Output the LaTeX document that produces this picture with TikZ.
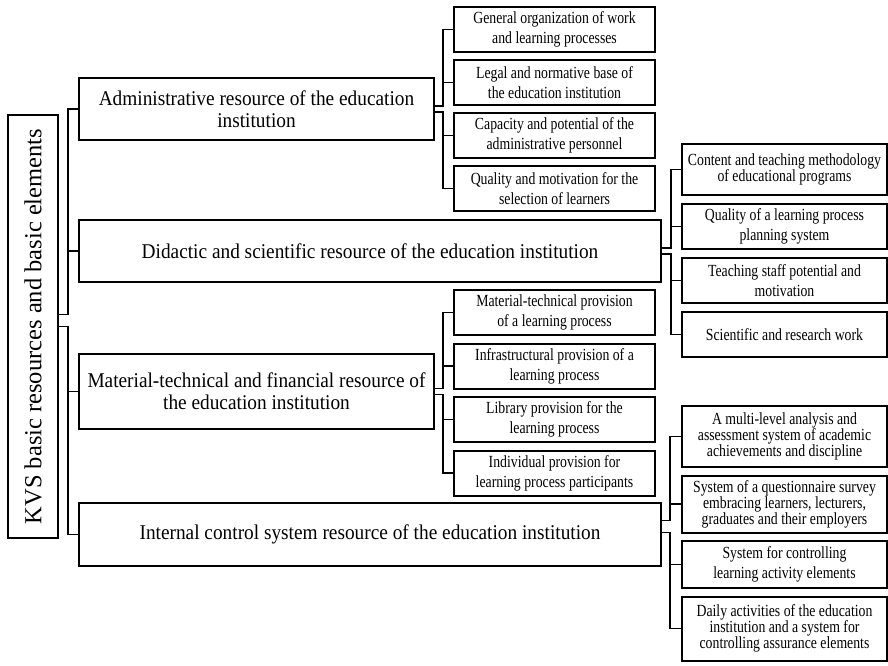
\documentclass[tikz,border=0pt]{standalone}
\usepackage{fontspec}
\setmainfont{Liberation Serif}
\newfontfamily\mainfnt[FakeStretch=0.92]{Liberation Serif}
\newfontfamily\subfnt[FakeStretch=0.81]{Liberation Serif}
\usetikzlibrary{positioning}
\tikzstyle{rb}=[draw, line width=2pt, rectangle, inner sep=0pt, outer sep=0pt, minimum width=50pt, minimum height=423pt, font=\fontsize{24.5}{26}\selectfont]
\tikzstyle{mb}=[draw, line width=2pt, rectangle, inner sep=0pt, outer sep=0pt, align=center, anchor=north west, minimum height=62pt, font=\mainfnt\fontsize{21}{22}\selectfont]
\tikzstyle{sb}=[draw, line width=2pt, rectangle, inner sep=0pt, outer sep=0pt, align=center, minimum width=201pt, minimum height=45pt, font=\subfnt\fontsize{17}{20}\selectfont]
\tikzstyle{sc}=[sb, minimum width=205pt, font=\subfnt\fontsize{17}{16}\selectfont]
\tikzstyle{ln}=[line width=1.5pt]

\begin{document}
\begin{tikzpicture}[x=1pt, y=-1pt]
\useasboundingbox (0,0) rectangle (888,665);

\node[rb] (root) at (33,326.5) {\rotatebox{90}{KVS basic resources and basic elements}};

\node[mb, minimum width=355pt] (adm) at (79,78) {Administrative resource of the education\\institution};
\node[mb, minimum width=582pt] (did) at (79,220) {Didactic and scientific resource of the education institution};
\node[mb, minimum width=355pt, minimum height=75pt] (mat) at (79,354) {Material-technical and financial resource of\\the education institution};
\node[mb, minimum width=582pt, minimum height=63pt] (int) at (79,503) {Internal control system resource of the education institution};

% administrative
\node[sb, anchor=north west] (a1) at (454,7) {General organization of work\\and learning processes};
\node[sb, below=8pt of a1] (a2) {Legal and normative base of\\the education institution};
\node[sb, below=8pt of a2] (a3) {Capacity and potential of the\\administrative personnel};
\node[sb, below=8pt of a3] (a4) {Quality and motivation for the\\selection of learners};

% didactic
\node[sc, anchor=north west, minimum height=51pt] (d1) at (682,144) {Content and teaching methodology\\of educational programs};
\node[sc, below=9pt of d1, font=\subfnt\fontsize{17}{20}\selectfont] (d2) {Quality of a learning process\\planning system};
\node[sc, below=9pt of d2, font=\subfnt\fontsize{17}{20}\selectfont] (d3) {Teaching staff potential and\\motivation};
\node[sc, below=9pt of d3] (d4) {Scientific and research work};

% material
\node[sb, anchor=north west] (m1) at (454,290) {Material-technical provision\\of a learning process};
\node[sb, below=8.5pt of m1] (m2) {Infrastructural provision of a\\learning process};
\node[sb, below=8.5pt of m2] (m3) {Library provision for the\\learning process};
\node[sb, below=8.5pt of m3] (m4) {Individual provision for\\learning process participants};

% internal control
\node[sc, anchor=north west, minimum height=61pt] (i1) at (682,406) {A multi-level analysis and\\assessment system of academic\\achievements and discipline};
\node[sc, below=8.5pt of i1, minimum height=57pt] (i2) {System of a questionnaire survey\\embracing learners, lecturers,\\graduates and their employers};
\node[sc, below=8.5pt of i2, minimum height=47pt, font=\subfnt\fontsize{17}{20}\selectfont] (i3) {System for controlling\\learning activity elements};
\node[sc, below=8.5pt of i3, minimum height=64pt] (i4) {Daily activities of the education\\institution and a system for\\controlling assurance elements};

\draw[ln] ([yshift=12pt]root.east) -- ++(10,0) |- (adm.west);
\draw[ln] ([yshift=12pt]root.east) -- ++(10,0) |- (did.west);
\draw[ln] (root.east) -- ++(10,0) |- (mat.west);
\draw[ln] (root.east) -- ++(10,0) |- (int.west);

\draw[ln] ([yshift=3pt]adm.east) -- ++(9,0) |- (a1.west);
\draw[ln] ([yshift=3pt]adm.east) -- ++(9,0) |- (a2.west);
\draw[ln] ([yshift=-3pt]adm.east) -- ++(9,0) |- (a3.west);
\draw[ln] ([yshift=-3pt]adm.east) -- ++(9,0) |- (a4.west);

\draw[ln] ([yshift=3pt]did.east) -- ++(10,0) |- (d1.west);
\draw[ln] ([yshift=3pt]did.east) -- ++(10,0) |- (d2.west);
\draw[ln] ([yshift=-3pt]did.east) -- ++(10,0) |- (d3.west);
\draw[ln] ([yshift=-3pt]did.east) -- ++(10,0) |- (d4.west);

\draw[ln] ([yshift=3pt]mat.east) -- ++(9,0) |- (m1.west);
\draw[ln] ([yshift=3pt]mat.east) -- ++(9,0) |- (m2.west);
\draw[ln] ([yshift=-3pt]mat.east) -- ++(9,0) |- (m3.west);
\draw[ln] ([yshift=-3pt]mat.east) -- ++(9,0) |- (m4.west);

\draw[ln] ([yshift=14pt]int.east) -- ++(9,0) |- (i1.west);
\draw[ln] ([yshift=14pt]int.east) -- ++(9,0) |- (i2.west);
\draw[ln] ([yshift=2pt]int.east) -- ++(9,0) |- (i3.west);
\draw[ln] ([yshift=2pt]int.east) -- ++(9,0) |- (i4.west);
\end{tikzpicture}
\end{document}
